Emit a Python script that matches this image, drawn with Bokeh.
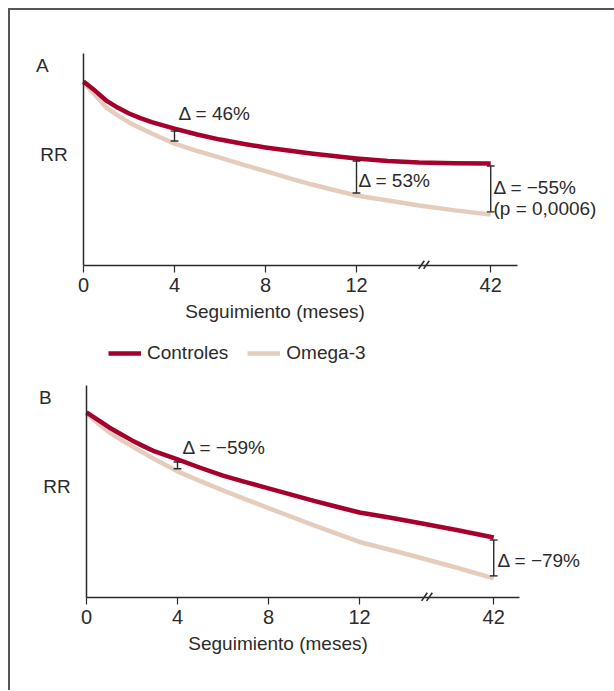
from bokeh.plotting import figure
from bokeh.models import Range1d, FixedTicker, Label, Legend, LegendItem
from bokeh.layouts import column
from bokeh.embed import file_html
from bokeh.resources import INLINE

# ---------------- data ----------------
months = [0, 0.5, 1, 1.5, 2, 2.5, 3, 4, 5, 6, 7, 8, 9, 10, 11, 12, 19, 26, 34, 42]

a_controles = [0.868, 0.825, 0.778, 0.745, 0.717, 0.695, 0.676, 0.646, 0.618, 0.594, 0.574,
               0.557, 0.542, 0.528, 0.516, 0.505, 0.493, 0.486, 0.482, 0.481]
a_omega3 = [0.863, 0.805, 0.745, 0.708, 0.675, 0.648, 0.623, 0.575, 0.540, 0.509, 0.476,
            0.445, 0.413, 0.383, 0.356, 0.330, 0.307, 0.283, 0.260, 0.241]

b_controles = [0.873, 0.838, 0.802, 0.771, 0.741, 0.714, 0.689, 0.651, 0.612, 0.575, 0.544,
               0.515, 0.485, 0.456, 0.428, 0.401, 0.376, 0.349, 0.317, 0.283]
b_omega3 = [0.868, 0.822, 0.779, 0.745, 0.713, 0.682, 0.652, 0.595, 0.549, 0.505, 0.463,
            0.422, 0.381, 0.340, 0.301, 0.262, 0.224, 0.185, 0.139, 0.090]

tick_months = [0, 4, 8, 12, 42]
tick_labels = ["0", "4", "8", "12", "42"]

a_delta_months = [4, 12, 42]
a_delta_texts = ["\u0394 = 46%", "\u0394 = 53%", "\u0394 = \u221255%\n(p = 0,0006)"]
b_delta_months = [4, 42]
b_delta_texts = ["\u0394 = \u221259%", "\u0394 = \u221279%"]

series_names = ["Controles", "Omega-3"]
x_title = "Seguimiento (meses)"
y_title = "RR"

# ---------------- style ----------------
FONT = "Liberation Sans, Arial, sans-serif"
RED = "#a6002d"
BEIGE = "#e5cdbd"
INK = "#2b2b2b"
FS = "19px"
TICK_FS = "20px"
PX_X = 22.75      # pixels per x unit
PX_Y = 212.0      # pixels per y unit
BREAK_AT = 14.86
W = 604


def pos(m):
    # broken axis: 0-12 months linear, 12-42 compressed
    return float(m) if m <= 12 else round(12 + (m - 12) * 5.9 / 30.0, 4)


def make_panel(letter, ctrl, omega, d_months, d_texts, d_offsets, x0_px, y1_px, y0_px, height, xend):
    # x0_px: pixel of x=0 from left; y1_px / y0_px: pixel of y=1 / y=0 from top
    xs0 = -x0_px / PX_X
    ys1 = 1 + y1_px / PX_Y
    ys0 = -(height - y0_px) / PX_Y
    p = figure(width=W, height=height,
               min_border=0, min_border_left=0, min_border_right=0,
               min_border_top=0, min_border_bottom=0,
               x_range=Range1d(xs0, xs0 + W / PX_X), y_range=Range1d(ys0, ys1),
               output_backend="svg", toolbar_location=None)
    p.outline_line_color = None
    p.grid.visible = False
    p.background_fill_color = "white"
    p.border_fill_color = "white"

    xs = [pos(m) for m in months]
    r_o = p.line(xs, omega, line_color=BEIGE, line_width=4.5, line_join="round")
    r_c = p.line(xs, ctrl, line_color=RED, line_width=4.5, line_join="round")

    # x axis (fixed at y = 0, limited to the data span)
    ax = p.xaxis[0]
    tp = [pos(m) for m in tick_months]
    ax.fixed_location = 0
    ax.bounds = (0, xend)
    ax.ticker = FixedTicker(ticks=tp)
    ax.major_label_overrides = {t: l for t, l in zip(tp, tick_labels)}
    ax.minor_tick_line_color = None
    ax.major_tick_in = 0
    ax.major_tick_out = 7
    ax.major_tick_line_color = INK
    ax.major_tick_line_width = 1.2
    ax.axis_line_color = INK
    ax.axis_line_width = 1.5
    ax.major_label_text_font = FONT
    ax.major_label_text_font_size = TICK_FS
    ax.major_label_text_color = INK
    ax.major_label_standoff = 5

    # y axis (no ticks), fixed at x = 0
    ay = p.yaxis[0]
    ay.fixed_location = 0
    ay.bounds = (0, 1)
    ay.ticker = FixedTicker(ticks=[])
    ay.major_label_text_font_size = "0px"
    ay.minor_tick_line_color = None
    ay.major_tick_line_color = None
    ay.axis_line_color = INK
    ay.axis_line_width = 1.5

    # delta brackets between the curves
    gap = 0.012
    cap = 0.17
    for m in d_months:
        i = months.index(m)
        x = pos(m)
        y_top = ctrl[i] - gap
        y_bot = omega[i] + gap
        p.segment(x0=[x, x - cap, x - cap], y0=[y_top, y_top, y_bot],
                  x1=[x, x + cap, x + cap], y1=[y_bot, y_top, y_bot],
                  line_color=INK, line_width=1.4)

    for m, txt, (dx, dy) in zip(d_months, d_texts, d_offsets):
        i = months.index(m)
        lines = txt.split("\n")
        ymid = (ctrl[i] + omega[i]) / 2 + dy
        for k, ln in enumerate(lines):
            p.add_layout(Label(x=pos(m) + dx, y=ymid - k * 0.099, text=ln,
                               text_font=FONT, text_font_size=FS,
                               text_color=INK, text_baseline="middle"))

    # axis break mark "//"
    bx = [BREAK_AT - 0.13, BREAK_AT + 0.09]
    p.segment(x0=bx, y0=[-0.016, -0.016], x1=[b + 0.25 for b in bx], y1=[0.022, 0.022],
              line_color=INK, line_width=1.6)

    # panel letter, RR and x title
    p.add_layout(Label(x=-2.09, y=0.943, text=letter, text_font=FONT,
                       text_font_size=FS, text_color=INK, text_baseline="middle"))
    p.add_layout(Label(x=-1.9, y=0.524, text=y_title, text_font=FONT,
                       text_font_size=FS, text_color=INK, text_baseline="middle"))
    p.add_layout(Label(x=8.42, y=-0.216, text=x_title, text_font=FONT,
                       text_font_size=FS, text_color=INK, text_baseline="middle",
                       text_align="center"))
    return p, r_c, r_o


# panel A: figure spans page y 10..377 ; x=0 at page 83, y=1 at 53, y=0 at 265
pA, rc, ro = make_panel("A", a_controles, a_omega3, a_delta_months, a_delta_texts,
                        [(0.18, 0.106), (0.09, -0.016), (0.12, 0.007)],
                        73, 43, 255, 367, 19.08)
# panel B: figure spans page y 377..690 ; x=0 at page 86, y=1 at 385, y=0 at 597
pB, _, _ = make_panel("B", b_controles, b_omega3, b_delta_months, b_delta_texts,
                      [(0.22, 0.085), (0.17, -0.011)],
                      76, 8, 220, 313, 19.03)

legend = Legend(items=[LegendItem(label=series_names[0], renderers=[rc]),
                       LegendItem(label=series_names[1], renderers=[ro])],
                location=(98, 13), orientation="horizontal",
                border_line_color=None, background_fill_alpha=0,
                padding=0, margin=0, spacing=19, label_standoff=6,
                glyph_width=33, glyph_height=20, label_height=20,
                label_text_font=FONT, label_text_font_size=FS,
                label_text_color=INK)
pA.add_layout(legend)

layout = column(pA, pB, styles={"margin-left": "8px", "margin-top": "8px",
                                 "border-left": "2px solid #555555",
                                 "border-top": "2px solid #555555"})

open("out.html", "w").write(file_html(layout, INLINE))
